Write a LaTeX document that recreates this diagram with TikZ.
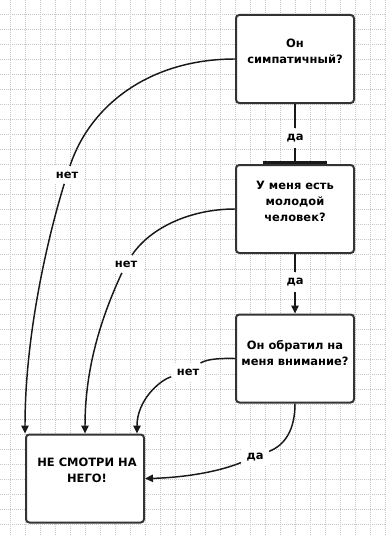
\documentclass[tikz,border=0pt]{standalone}
\usepackage{fontspec}
\setmainfont{DejaVu Sans}
\usetikzlibrary{arrows.meta}

\begin{document}
\begin{tikzpicture}[
	x=0.75pt,
	y=-0.75pt,
	gridline/.style={draw=black!22, line width=0.5pt, dash pattern=on 0.75pt off 0.75pt},
	qbox/.style={
		rectangle,
		rounded corners=2.5pt,
		draw=black!80,
		line width=1.5pt,
		fill=white,
		minimum width=88.5pt,
		minimum height=66pt
	},
	qtext/.style={align=center, inner sep=0pt, font=\fontsize{8.6}{12}\selectfont\bfseries},
	answer/.style={fill=white, inner sep=4pt, font=\fontsize{8.6}{12}\selectfont\bfseries},
	link/.style={line width=1.1pt, black!90},
	arrow/.style={link, -{Triangle[length=6pt,width=5.5pt]}},
	stopbar/.style={link, -{Bar[width=48pt,line width=2.2pt]}}
]

\useasboundingbox (0,0) rectangle (386,535);

% Сетка
\foreach \gx in {10,25,...,385}
	\draw[gridline] (\gx,0) -- (\gx,535);
\foreach \gy in {14,29,...,524}
	\draw[gridline] (0,\gy) -- (386,\gy);

% Вопросы
\node[qbox] (q1) at (295,59) {};
\node[qtext] (q1text) at (295,51.5) {Он\\симпатичный?};

\node[qbox] (q2) at (295,209) {};
\node[qtext] (q2text) at (295,201.5) {У меня есть\\молодой\\человек?};

\node[qbox] (q3) at (295,358.5) {};
\node[qtext] (q3text) at (295,353) {Он обратил на\\меня внимание?};

% Итог
\node[qbox] (q4) at (85,478.5) {};
\node[qtext] (q4text) at (87,470.5) {НЕ СМОТРИ НА\\НЕГО!};

% Подписи
\node[answer] (no1) at (67,175) {нет};
\node[answer] (no2) at (126,264) {нет};
\node[answer] (no3) at (188,372) {нет};
\node[answer] (yes1) at (295,138) {да};
\node[answer] (yes2) at (295,282) {да};
\node[answer] (yes3) at (255,457) {да};

% Стрелки "да"
\draw[link] (q1.south) -- (yes1);
\draw[stopbar] (yes1) -- (q2.north);
\draw[link] (q2.south) -- (yes2);
\draw[arrow] (yes2) -- (q3.north);
\draw[link] (q3.south) .. controls (295,430) and (285,445) .. (yes3);
\draw[arrow] (yes3) .. controls (210,475) and (170,478) .. (q4.east);

% Стрелки "нет"
\draw[link] (q1.west) .. controls (150,59) and (90,105) .. (no1);
\draw[arrow] (no1) .. controls (50,230) and (25,330) .. (q4.north west);
\draw[link] (q2.west) .. controls (190,209) and (150,228) .. (no2);
\draw[arrow] (no2) .. controls (100,320) and (85,370) .. (q4.north);
\draw[link] (q3.west) .. controls (215,358) and (205,360) .. (no3);
\draw[arrow] (no3) .. controls (160,380) and (137,400) .. ([xshift=-6pt]q4.north east);

\end{tikzpicture}
\end{document}
